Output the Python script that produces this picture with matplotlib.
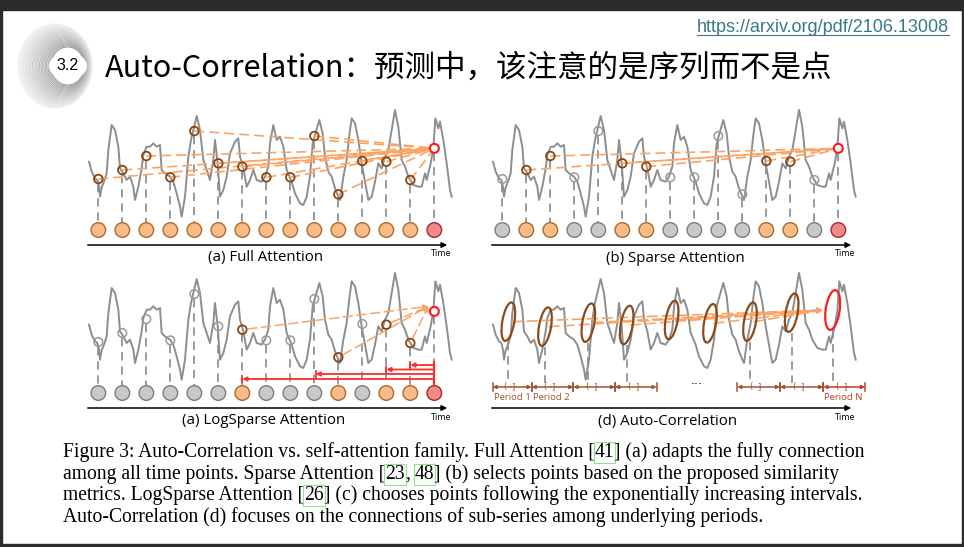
import matplotlib
matplotlib.use("Agg")
import matplotlib.pyplot as plt
from matplotlib.patches import Circle, Ellipse, Rectangle

# time series (t = position along time, v = height)
ts_t = [27, 35, 45, 52, 57, 60, 65, 72, 80, 85, 95, 105, 115, 120, 130, 140, 150, 160, 165, 175,
        185, 190, 200, 210, 220, 230, 240, 245, 255, 270, 280, 290, 300, 305, 315, 325, 333, 340,
        350, 360, 370, 380, 390, 400, 405, 413, 420, 430, 440, 450, 465, 475, 480, 490, 500, 510,
        520, 530, 545, 555, 565, 570, 580, 590, 600, 610, 620, 635, 645, 660, 670, 680, 690, 698,
        705, 718, 728, 735, 745, 755, 765, 775, 780, 790, 800, 808, 815, 825, 835, 845, 855, 865,
        875, 885, 895, 905, 915, 925, 935, 945, 955, 965, 975, 985, 1000, 1015, 1025, 1035, 1040,
        1052, 1060, 1066, 1075, 1080, 1090, 1100, 1110, 1115]
ts_v = [175, 145, 125, 120, 100, 70, 98, 115, 140, 210, 285, 270, 220, 155, 140, 120, 130, 100, 60, 100,
        155, 195, 220, 220, 230, 220, 225, 150, 140, 130, 115, 80, 40, 10, 70, 190, 240, 270,
        312, 270, 180, 150, 120, 180, 240, 170, 70, 90, 130, 200, 235, 245, 190, 155, 100, 120,
        150, 120, 115, 130, 160, 230, 285, 240, 250, 220, 150, 115, 80, 50, 45, 70, 130, 230,
        255, 300, 260, 190, 145, 130, 95, 70, 60, 130, 180, 255, 305, 290, 240, 170, 115, 60,
        70, 115, 170, 155, 190, 210, 270, 330, 280, 180, 160, 130, 105, 100, 100, 140, 120,
        170, 215, 305, 275, 295, 240, 170, 90, 70]

# the 15 time points and the query point (last)
pt_t = [55, 127, 199, 271, 343, 415, 487, 559, 631, 703, 775, 847, 919, 991, 1063]
pt_v = [123, 150, 192, 128, 267, 170, 160, 128, 128, 252, 77, 177, 175, 120, 215]
sparse_sel = [1, 2, 5, 6, 11, 12]
log_sel = [6, 10, 12, 13]
log_starts = [991, 919, 707, 487]

# auto-correlation sub-series
ac_t = [73, 183, 313, 428, 563, 678, 798, 923, 1046]
ac_v = [184, 169, 181, 174, 189, 179, 184, 211, 219]
ac_dashed = [0, 1, 2, 3, 6, 7, 8]
period_bounds = [(26, 143), (143, 268), (268, 393), (393, 518), (760, 888), (888, 1018), (1018, 1143)]
period_labels = ["Period 1", "Period 2", "", "", "", "", "Period N"]

panel_titles = ["(a) Full Attention", "(b) Sparse Attention", "(a) LogSparse Attention", "(d) Auto-Correlation"]

caption = [
    [("Figure 3: Auto-Correlation vs. self-attention family. Full Attention [", 0), ("41", 1),
     ("] (a) adapts the fully connection", 0)],
    [("among all time points. Sparse Attention [", 0), ("23", 1), (",", 0), (" ", 2), ("48", 1),
     ("] (b) selects points based on the proposed similarity", 0)],
    [("metrics. LogSparse Attention [", 0), ("26", 1),
     ("] (c) chooses points following the exponentially increasing intervals.", 0)],
    [("Auto-Correlation (d) focuses on the connections of sub-series among underlying periods.", 0)],
]

GRAY_LINE = "#8e8e8e"
ORANGE = "#fca463"
BROWN = "#8b4513"
NODE_OR = "#f9bb88"
NODE_OR_EDGE = "#b0682c"
NODE_GR = "#c8c8c8"
NODE_GR_EDGE = "#7d7d7d"
NODE_RED = "#f08a8a"
NODE_RED_EDGE = "#a52a2a"
RED = "#ff2a2a"
SANS = ["Open Sans", "DejaVu Sans"]

fig = plt.figure(figsize=(9.64, 5.47), dpi=100)
ax = fig.add_axes([0, 0, 1, 1])
ax.set_xlim(0, 964)
ax.set_ylim(547, 0)
ax.axis("off")
renderer = fig.canvas.get_renderer()

# slide frame
ax.add_patch(Rectangle((0, 0), 964, 10, color="#2b2b2b", zorder=0))
ax.add_patch(Rectangle((0, 0), 2, 547, color="#2b2b2b", zorder=0))
ax.add_patch(Rectangle((962, 0), 2, 547, color="#2b2b2b", zorder=0))
ax.add_patch(Rectangle((0, 544), 964, 3, color="#2b2b2b", zorder=0))

# logo
for k in range(24):
    r = 42 - k
    cx = 55 + k * 0.55
    g = 0.94 - 0.3 * (k / 23)
    ax.add_patch(Ellipse((cx, 66), 2 * r * 0.88, 2 * r, fill=False, ec=(g, g, g), lw=0.8, zorder=1))
ax.add_patch(Ellipse((68, 66), 38, 27, fc="white", ec="none", zorder=2))
ax.text(68, 66, "3.2", fontsize=11.5, family=["Liberation Sans", "DejaVu Sans"],
        ha="center", va="center", zorder=3)

# title and link
ax.text(105, 68, "Auto-Correlation：预测中，该注意的是序列而不是点", fontsize=22,
        family=["Noto Sans CJK SC", "DejaVu Sans"], ha="left", va="center")
url = ax.text(949, 27, "https://arxiv.org/pdf/2106.13008", fontsize=13, color="#3a7a88",
              family=["Liberation Sans", "DejaVu Sans"], ha="right", va="center")
uw = url.get_window_extent(renderer).width
ax.plot([949 - uw, 949], [35, 35], color="#3a7a88", lw=0.8)

offsets = [(0, 0), (404, 0), (0, 163), (404, 163)]
title_x = [266, 675, 264, 668]


def px(t, v, dx, dy):
    return 80 + dx + t / 3.0, 220 + dy - v / 3.0


for p, (dx, dy) in enumerate(offsets):
    xs = [px(t, 0, dx, dy)[0] for t in ts_t]
    ys = [px(0, v, dx, dy)[1] for v in ts_v]
    ax.plot(xs, ys, color=GRAY_LINE, lw=1.4, zorder=3)

    # time axis
    ax.annotate("", xy=(450 + dx, 245 + dy), xytext=(85 + dx, 245 + dy),
                arrowprops=dict(arrowstyle="-|>", color="black", lw=1.1, mutation_scale=8))
    ax.text(441 + dx, 254 + dy, "Time", fontsize=6.5, family=SANS, ha="center", va="center")
    ax.text(title_x[p], 258 + dy, panel_titles[p], fontsize=10.8, family=SANS,
            ha="center", va="center")

    if p < 3:
        qx, qy = px(pt_t[-1], pt_v[-1], dx, dy)
        if p == 0:
            sel = list(range(14))
        elif p == 1:
            sel = sparse_sel
        else:
            sel = log_sel
        for i in range(15):
            x, y = px(pt_t[i], pt_v[i], dx, dy)
            ax.plot([x, x], [y + 4.5, 222 + dy], color="#8a8a8a", lw=1.2,
                    dashes=(5, 3.5), zorder=2)
            if i == 14:
                fc, ec = NODE_RED, NODE_RED_EDGE
                ax.add_patch(Circle((x, y), 4.5, fc="white", ec="#ff1a1a", lw=1.5, zorder=6))
            elif i in sel:
                fc, ec = NODE_OR, NODE_OR_EDGE
                ax.add_patch(Circle((x, y), 4.3, fill=False, ec=BROWN, lw=1.3, zorder=6))
                if p < 2:
                    ax.plot([x, qx], [y, qy], color=ORANGE, lw=1.2, dashes=(6, 3), zorder=4)
                else:
                    ax.annotate("", xy=(qx - 6, qy - 5), xytext=(x, y),
                                arrowprops=dict(arrowstyle="-|>", color=ORANGE, lw=1.1,
                                                linestyle=(0, (6, 3)), mutation_scale=7,
                                                shrinkA=4, shrinkB=0), zorder=4)
            else:
                fc, ec = NODE_GR, NODE_GR_EDGE
                ax.add_patch(Circle((x, y), 4.3, fill=False, ec="#9a9a9a", lw=1.1, zorder=6))
            ax.add_patch(Circle((x, 230 + dy), 7.3, fc=fc, ec=ec, lw=1.0, zorder=5))

        if p == 2:
            levels = [202, 206.5, 211, 216]
            for s, lv in zip(log_starts, levels):
                x0 = px(s, 0, dx, dy)[0]
                ax.annotate("", xy=(x0, lv + dy), xytext=(qx, lv + dy),
                            arrowprops=dict(arrowstyle="-|>", color=RED, lw=1.3,
                                            mutation_scale=6, shrinkA=0, shrinkB=0), zorder=5)
                ax.plot([x0, x0], [lv + dy - 3, lv + dy + 3], color=RED, lw=1.3, zorder=5)
            ax.plot([qx, qx], [levels[0] + dy - 3, 222 + dy], color=RED, lw=1.5, zorder=5)
    else:
        qx, qy = px(ac_t[-1], ac_v[-1], dx, dy)
        tip = (qx - 10, qy)
        for i in range(len(ac_t)):
            x, y = px(ac_t[i], ac_v[i], dx, dy)
            if i == len(ac_t) - 1:
                ax.add_patch(Ellipse((x, y), 14, 40, angle=8, fill=False, ec="#ff1a1a",
                                     lw=1.6, zorder=6))
            else:
                ax.add_patch(Ellipse((x, y), 12, 39, angle=10, fill=False, ec="#8b4a1c",
                                     lw=1.6, zorder=6))
                ax.annotate("", xy=tip, xytext=(x + 4, y),
                            arrowprops=dict(arrowstyle="-|>", color=ORANGE, lw=1.2,
                                            linestyle=(0, (6, 3)), mutation_scale=7,
                                            shrinkA=0, shrinkB=0), zorder=4)
            if i in ac_dashed:
                ax.plot([x, x], [y + 20, 220 + dy], color="#8a8a8a", lw=1.2,
                        dashes=(5, 3.5), zorder=2)
        by = 224 + dy
        for k, (a, b) in enumerate(period_bounds):
            xa = px(a, 0, dx, dy)[0]
            xb = px(b, 0, dx, dy)[0]
            col = "#c0392b" if k == len(period_bounds) - 1 else "#a0522d"
            ax.annotate("", xy=(xb, by), xytext=(xa, by),
                        arrowprops=dict(arrowstyle="<|-|>", color=col, lw=1.1,
                                        mutation_scale=5, shrinkA=0, shrinkB=0))
            ax.plot([xa, xa], [by - 4, by + 4], color=col, lw=1.1)
            ax.plot([xb, xb], [by - 4, by + 4], color=col, lw=1.1)
            xm = xa + (xb - xa) * 0.42
            ax.text(xm - 4, by, "(", fontsize=6, color=col, ha="center", va="center")
            ax.text(xm + 4, by, "]", fontsize=6, color=col, ha="center", va="center")
            if period_labels[k]:
                ax.text(xa + 1, by + 11, period_labels[k], fontsize=6.8, color=col,
                        family=SANS, ha="left", va="center")
        ax.text(px(638, 0, dx, dy)[0], by - 2, "···", fontsize=9, ha="center", va="center")

# caption with boxed citation numbers
serif = ["Liberation Serif", "DejaVu Serif"]
cap_fs = 14.1
probe1 = ax.text(0, -50, "a a", fontsize=cap_fs, family=serif)
probe2 = ax.text(0, -50, "aa", fontsize=cap_fs, family=serif)
space_w = probe1.get_window_extent(renderer).width - probe2.get_window_extent(renderer).width
probe1.remove()
probe2.remove()

line_y = [457, 479, 500, 522]
for parts, y in zip(caption, line_y):
    x = 63
    for s, kind in parts:
        if kind == 2:
            x += space_w
            continue
        kw = dict(fontsize=cap_fs, family=serif, ha="left", va="baseline")
        if kind == 1:
            kw["bbox"] = dict(boxstyle="square,pad=0.05", fc="none", ec="#8fe38f", lw=0.8)
        t = ax.text(x, y, s, **kw)
        x += t.get_window_extent(renderer).width

fig.savefig("out.png", dpi=100, facecolor="white")
